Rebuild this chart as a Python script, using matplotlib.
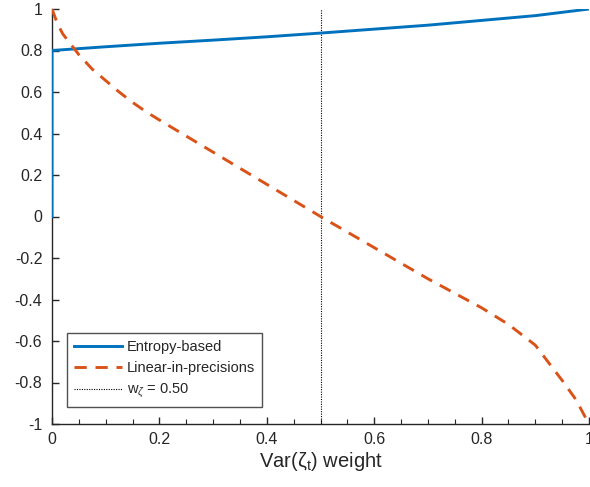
import matplotlib
matplotlib.use("Agg")
import matplotlib.pyplot as plt
from matplotlib.ticker import MultipleLocator

plt.rcParams['font.family'] = ['Liberation Sans', 'DejaVu Sans']
plt.rcParams['mathtext.fontset'] = 'custom'
plt.rcParams['mathtext.rm'] = 'Liberation Sans'
plt.rcParams['mathtext.it'] = 'Liberation Sans:italic'

# Entropy-based weighting
entropy_x = [0.0, 0.0, 0.1, 0.2, 0.3, 0.4, 0.5, 0.6, 0.7, 0.8, 0.9, 1.0]
entropy_y = [0.0, 0.8, 0.818, 0.835, 0.85, 0.866, 0.884, 0.903, 0.922, 0.945, 0.968, 1.0]

# Linear-in-precisions weighting
linear_x = [0.0, 0.01, 0.02, 0.05, 0.075, 0.1, 0.125, 0.15, 0.175, 0.2, 0.3, 0.4, 0.5,
            0.6, 0.7, 0.8, 0.85, 0.9, 0.95, 0.975, 1.0]
linear_y = [1.0, 0.93, 0.88, 0.78, 0.71, 0.655, 0.6, 0.55, 0.505, 0.465, 0.31, 0.155, 0.0,
            -0.15, -0.3, -0.44, -0.52, -0.62, -0.79, -0.88, -1.0]

w_zeta = 0.50

xticks = [0, 0.2, 0.4, 0.6, 0.8, 1]
xticklabels = ['0', '0.2', '0.4', '0.6', '0.8', '1']
yticks = [-1, -0.8, -0.6, -0.4, -0.2, 0, 0.2, 0.4, 0.6, 0.8, 1]
yticklabels = ['-1', '-0.8', '-0.6', '-0.4', '-0.2', '0', '0.2', '0.4', '0.6', '0.8', '1']

fig = plt.figure(figsize=(5.90, 4.87), dpi=100)
ax = fig.add_axes([52/590, 63/487, 537/590, 415/487])

ax.plot(entropy_x, entropy_y, color='#0072BD', lw=2.1, label='Entropy-based', zorder=3)
ax.plot(linear_x, linear_y, color='#D95319', lw=2.1, ls=(0, (4.2, 3.0)),
        label='Linear-in-precisions', zorder=3)
ax.axvline(w_zeta, color='black', lw=0.8, ls=(0, (1, 1.2)),
           label=r'w$_\zeta$ = %.2f' % w_zeta, zorder=2)

ax.set_xlim(0, 1)
ax.set_ylim(-1, 1)
ax.set_xticks(xticks)
ax.set_xticklabels(xticklabels)
ax.set_yticks(yticks)
ax.set_yticklabels(yticklabels)
ax.xaxis.set_minor_locator(MultipleLocator(0.05))

axis_color = '#262626'
for side in ('top', 'right'):
    ax.spines[side].set_visible(False)
for side in ('left', 'bottom'):
    ax.spines[side].set_color(axis_color)
    ax.spines[side].set_linewidth(1.0)

ax.tick_params(which='major', direction='in', length=5, width=1.0,
               colors=axis_color, labelsize=11.5)
ax.tick_params(axis='y', which='major', pad=7)
ax.tick_params(axis='x', which='major', pad=6)
ax.tick_params(which='minor', direction='in', length=3.5, width=0.8,
               colors=axis_color)
ax.tick_params(axis='y', which='minor', left=False)

ax.set_xlabel(r'Var(ζ$_\mathrm{t}$) weight', fontsize=14.5, color=axis_color, labelpad=2)

leg = ax.legend(loc='lower left', bbox_to_anchor=(0.028, 0.041), fontsize=10.5,
                frameon=True, fancybox=False, edgecolor=axis_color,
                handlelength=3.3, handletextpad=0.35, borderpad=0.45,
                labelspacing=0.48, borderaxespad=0)
leg.get_frame().set_linewidth(1.0)
for t in leg.get_texts():
    t.set_color(axis_color)

fig.savefig('out.png', dpi=100)
